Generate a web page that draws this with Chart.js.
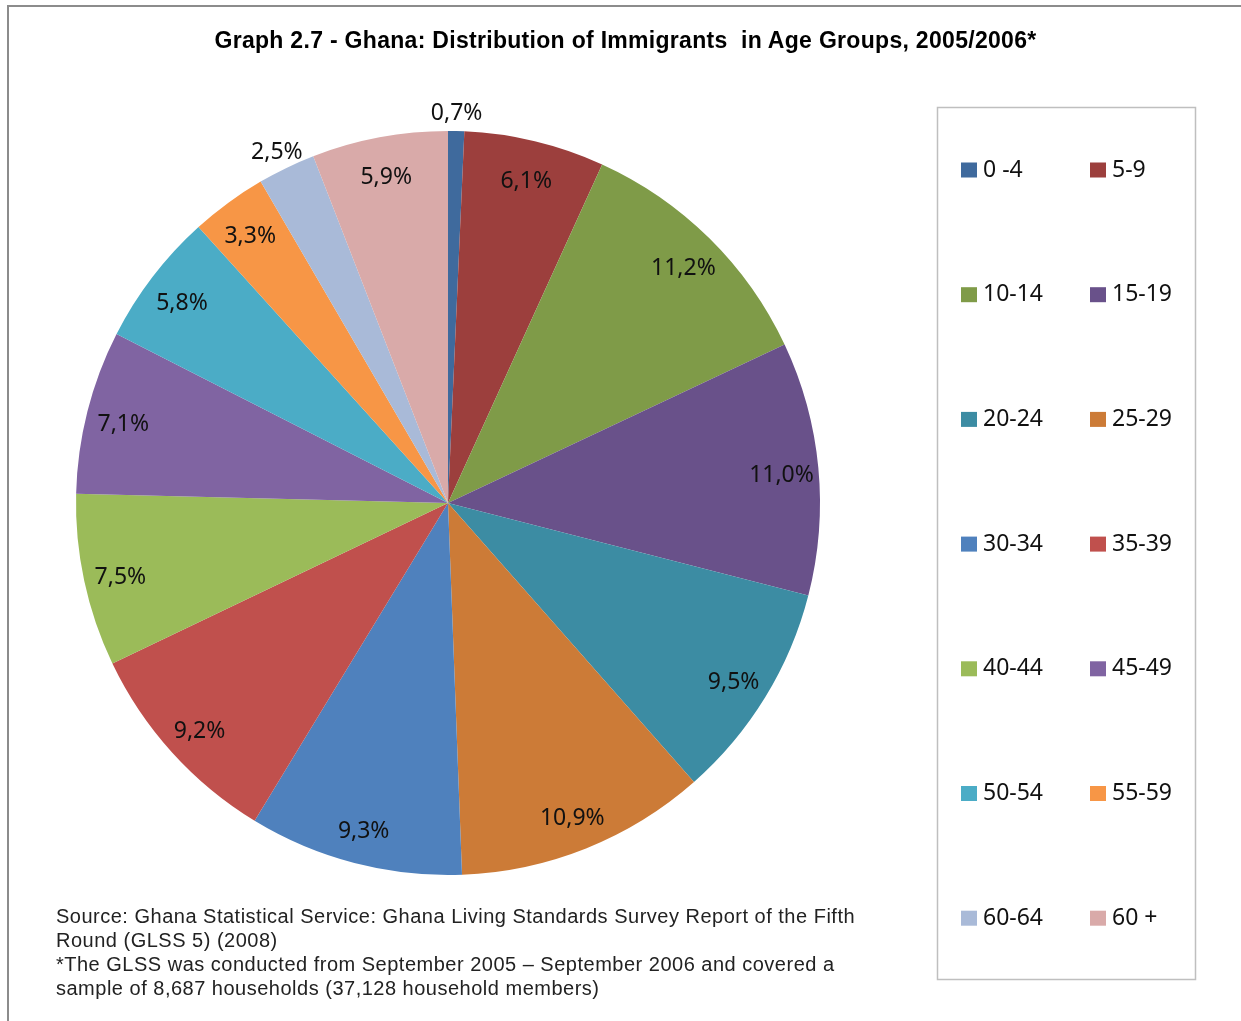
<!doctype html>
<html lang="en">
  <head>
    <meta charset="utf-8">
    <title>Ghana: Distribution of Immigrants in Age Groups</title>
    <script src="https://cdn.jsdelivr.net/npm/chart.js@4.4.0/dist/chart.umd.min.js"></script>
    <style>
      body { margin: 0; background: #fff; }
      #wrap { position: relative; width: 1241px; height: 1021px; overflow: hidden; }
      #frame { position: absolute; left: 7px; top: 5px; width: 1300px; height: 1100px;
               border-left: 2px solid #8c8c8c; border-top: 2px solid #8c8c8c; }
      #myChart { position: absolute; left: 0; top: 0; }
      #title { position: absolute; left: 0; width: 1251px; top: 27px; text-align: center;
               font: bold 23px "Liberation Sans", Arial, sans-serif; letter-spacing: 0.3px;
               color: #000; white-space: pre; }
      #source { position: absolute; left: 56px; top: 904px; width: 880px;
                font: 20px/24px "Liberation Sans", Arial, sans-serif; letter-spacing: 0.5px; color: #222; }
    </style>
  </head>
  <body>
    <div id="wrap">
      <div id="frame"></div>
      <canvas id="myChart" width="1241" height="1021"></canvas>
      <div id="title">Graph 2.7 - Ghana: Distribution of Immigrants  in Age Groups, 2005/2006*</div>
      <div id="source">Source: Ghana Statistical Service: Ghana Living Standards Survey Report of the Fifth<br>Round (GLSS 5) (2008)<br>*The GLSS was conducted from September 2005 &ndash; September 2006 and covered a<br>sample of 8,687 households (37,128 household members)</div>
    </div>

    <script>
      // age groups and share of immigrants (%)
      var ageGroups = ["0 -4", "5-9", "10-14", "15-19", "20-24", "25-29", "30-34",
                       "35-39", "40-44", "45-49", "50-54", "55-59", "60-64", "60 +"];
      var shares = [0.7, 6.1, 11.2, 11.0, 9.5, 10.9, 9.3, 9.2, 7.5, 7.1, 5.8, 3.3, 2.5, 5.9];
      var colors = ["#3F6A9D", "#9C3F3D", "#7F9B48", "#69518A", "#3C8CA3", "#CC7B37", "#4F81BD",
                    "#C0504D", "#9BBB59", "#8064A2", "#4BACC6", "#F79646", "#A9BAD8", "#D9AAA9"];

      var labelFont = '23px "Noto Sans", sans-serif';

      // percentage labels on the slices (small slices get them outside)
      var sliceLabels = {
        id: "sliceLabels",
        afterDatasetsDraw: function(chart){
          var ctx = chart.ctx;
          var meta = chart.getDatasetMeta(0);
          var values = chart.data.datasets[0].data;
          ctx.save();
          ctx.font = labelFont;
          ctx.fillStyle = "#111";
          ctx.textAlign = "center";
          ctx.textBaseline = "middle";
          meta.data.forEach(function(arc, i){
            var p = arc.getProps(["x", "y", "startAngle", "endAngle", "outerRadius"], true);
            var mid = (p.startAngle + p.endAngle) / 2;
            var r = values[i] < 3 ? p.outerRadius + 22 : p.outerRadius - 37;
            var txt = values[i].toFixed(1).replace(".", ",") + "%";
            ctx.fillText(txt, p.x + Math.cos(mid) * r, p.y + Math.sin(mid) * r + 4);
          });
          ctx.restore();
        }
      };

      // boxed two-column legend on the right
      var boxLegend = {
        id: "boxLegend",
        afterDraw: function(chart){
          var ctx = chart.ctx;
          var labels = chart.data.labels;
          var bg = chart.data.datasets[0].backgroundColor;
          ctx.save();
          ctx.strokeStyle = "#bfbfbf";
          ctx.lineWidth = 1.5;
          ctx.strokeRect(937.5, 107.5, 258, 872);
          ctx.font = labelFont;
          ctx.fillStyle = "#111";
          ctx.textBaseline = "middle";
          ctx.textAlign = "left";
          labels.forEach(function(lab, i){
            var col = i % 2, row = Math.floor(i / 2);
            var x = 961 + col * 129;
            var y = 170 + row * 124.7;
            ctx.fillStyle = bg[i];
            ctx.fillRect(x, y - 7.5, 16, 15);
            ctx.fillStyle = "#111";
            ctx.fillText(lab, x + 22, y);
          });
          ctx.restore();
        }
      };

      function showPie(chartid){
        var ctx = document.getElementById(chartid).getContext("2d");
        var mychart = new Chart(ctx, {
          type: "pie",
          data: {
            labels: ageGroups,
            datasets: [
              {
                data: shares,
                backgroundColor: colors,
                borderWidth: 0,
                hoverOffset: 0
              }
            ]
          },
          options: {
            responsive: false,
            animation: false,
            radius: 372,
            layout: { padding: { left: 76, top: 131, right: 421, bottom: 146 } },
            plugins: {
              legend: { display: false },
              tooltip: { enabled: false }
            }
          },
          plugins: [sliceLabels, boxLegend]
        });
      }

      showPie("myChart");
    </script>
  </body>
</html>
